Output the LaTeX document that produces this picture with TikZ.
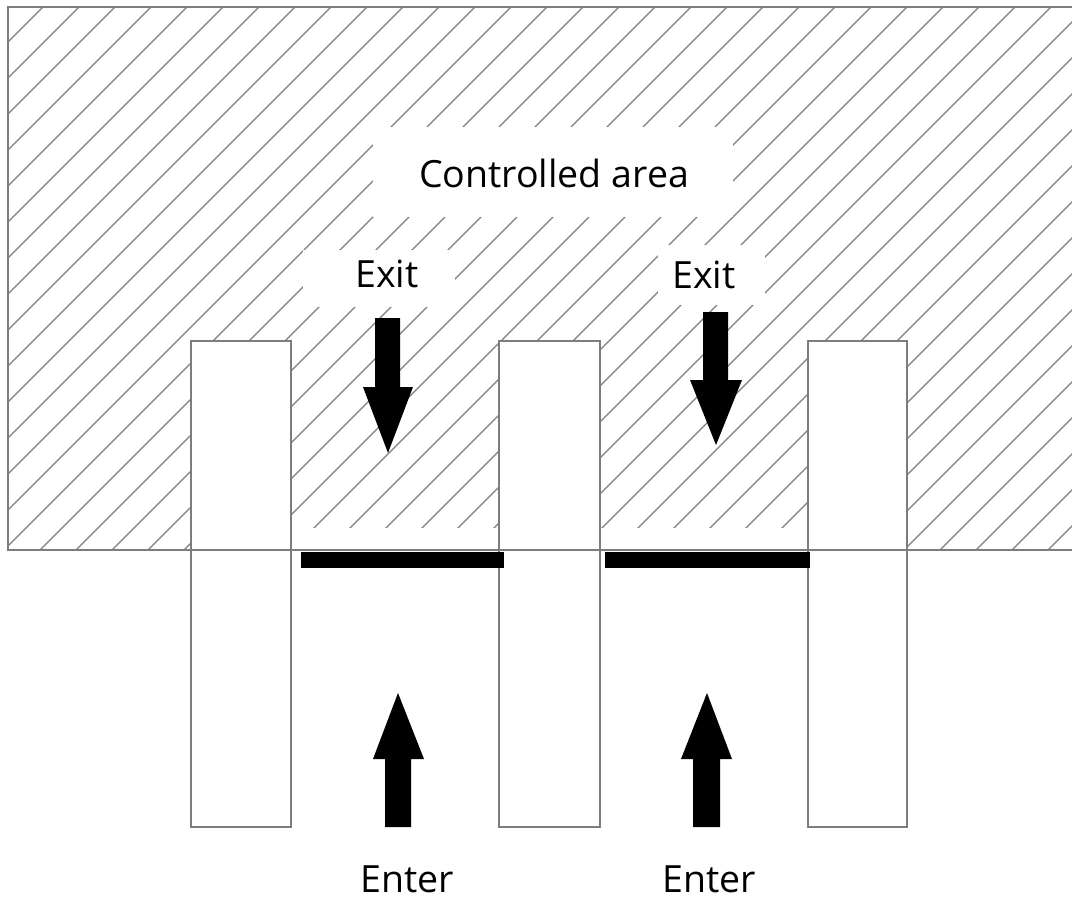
\documentclass[tikz,border=0pt]{standalone}
\usepackage{fontspec}
\setmainfont{Open Sans}
\definecolor{linegray}{RGB}{125,125,125}
\begin{document}
\begin{tikzpicture}[x=1pt,y=-1pt,
  hatchline/.style={draw=linegray,line width=1.3pt},
  outline/.style={draw=linegray,line width=1.3pt},
  pillar/.style={outline,fill=white},
  label/.style={font=\fontsize{37.5}{40}\selectfont,inner sep=0pt,anchor=base,text=black,text depth=0pt},
  blockarrow/.style={fill=black,draw=none},
  gatebar/.style={fill=black,draw=none}]
\useasboundingbox (0,0) rectangle (1072,898);
% hatched controlled area
\begin{scope}
  \clip (8,7) rectangle (1072,550);
  \foreach \c in {14,50,...,1634}
    \draw[hatchline] (\c+20,-20) -- (\c-700,700);
\end{scope}
% white clearings behind labels
\fill[white] (373,127) rectangle (733,217);
\fill[white] (303,250) rectangle (455,307);
\fill[white] (658,245) rectangle (765,305);
\fill[white] (291,528) rectangle (808,549);
% pillars
\draw[pillar] (191,341) rectangle (291,827);
\draw[pillar] (499,341) rectangle (600,827);
\draw[pillar] (808,341) rectangle (907,827);
% outline of area
\draw[outline] (1073,7) -- (8,7) -- (8,550) -- (1073,550);
% gate bars
\fill[gatebar] (301,552) rectangle (504,568);
\fill[gatebar] (605,552) rectangle (810,568);
% exit arrows (down)
\fill[blockarrow] (375,318) -- (400,318) -- (400,387) -- (413,387) -- (388,453) -- (363,387) -- (375,387) -- cycle;
\fill[blockarrow] (703,312) -- (728,312) -- (728,380) -- (742,380) -- (716,445) -- (690,380) -- (703,380) -- cycle;
% enter arrows (up)
\fill[blockarrow] (385,827) -- (411,827) -- (411,759) -- (424,759) -- (398,693) -- (373,759) -- (385,759) -- cycle;
\fill[blockarrow] (693,827) -- (720,827) -- (720,759) -- (732,759) -- (707,693) -- (681,759) -- (693,759) -- cycle;
% labels
\node[label] (ctrl) at (554,187) {Controlled area};
\node[label] (exitA) at (387,287) {Exit};
\node[label] (exitB) at (704,288) {Exit};
\node[label] (enterA) at (407,892) {Enter};
\node[label] (enterB) at (709,892) {Enter};
\end{tikzpicture}
\end{document}
